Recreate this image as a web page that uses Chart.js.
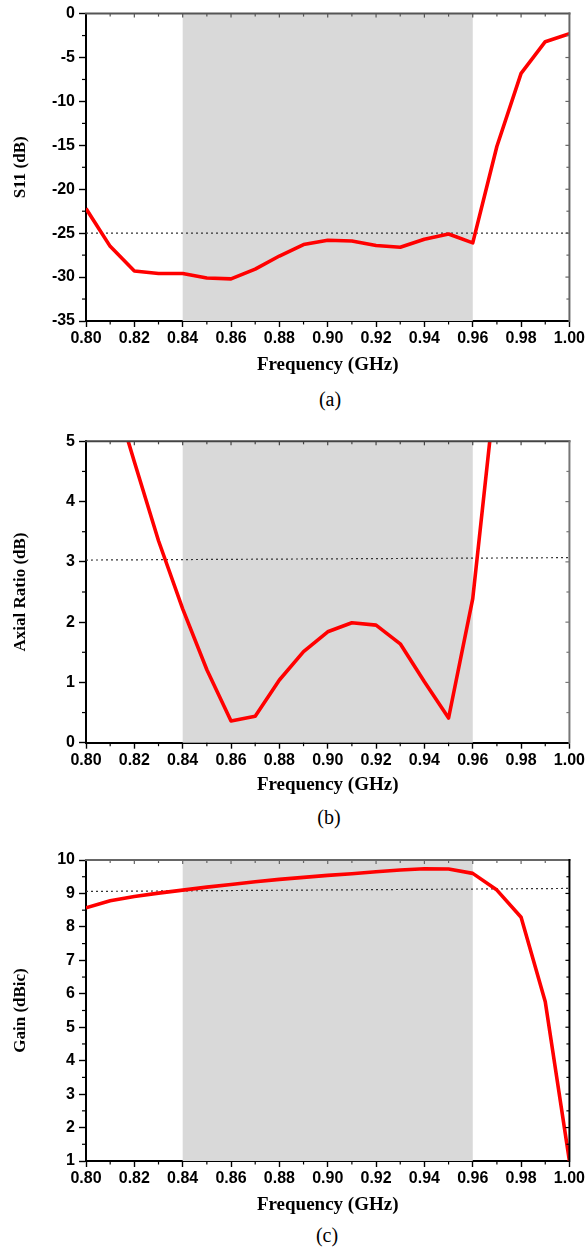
<!DOCTYPE html>
<html><head><meta charset="utf-8">
<script src="https://cdn.jsdelivr.net/npm/chart.js@4.4.1/dist/chart.umd.min.js"></script>
<style>
html,body{margin:0;padding:0;background:#fff;width:587px;height:1247px;overflow:hidden;position:relative}
canvas{position:absolute;left:0}
.cap{position:absolute;font-family:"Liberation Serif","Times New Roman",serif;font-size:20px;color:#000;width:60px;text-align:center;line-height:22px}
</style></head><body>
<canvas id="ca" width="587" height="380" style="top:0px"></canvas>
<canvas id="cb" width="587" height="380" style="top:420px"></canvas>
<canvas id="cc" width="587" height="380" style="top:840px"></canvas>
<div class="cap" style="left:300px;top:388px">(a)</div>
<div class="cap" style="left:299px;top:806px">(b)</div>
<div class="cap" style="left:297px;top:1224px">(c)</div>
<script>
// ---- data ----
const freq = [0.80,0.81,0.82,0.83,0.84,0.85,0.86,0.87,0.88,0.89,0.90,0.91,0.92,0.93,0.94,0.95,0.96,0.97,0.98,0.99,1.00];
const s11 = [-22.2,-26.5,-29.3,-29.6,-29.6,-30.1,-30.2,-29.1,-27.6,-26.3,-25.8,-25.9,-26.4,-26.6,-25.7,-25.1,-26.1,-15.1,-6.8,-3.2,-2.3];
const axialRatio = [7.4,6.0,4.66,3.35,2.22,1.21,0.36,0.44,1.04,1.51,1.84,1.99,1.95,1.64,1.01,0.41,2.39,6.1,null,null,null];
const gain = [8.57,8.78,8.91,9.01,9.10,9.19,9.27,9.35,9.42,9.48,9.54,9.59,9.65,9.70,9.74,9.73,9.60,9.10,8.29,5.76,1.0];
const refFreq = [0.80, 1.00];
const s11Ref = [-25, -25];
const arRef = [3.03, 3.07];
const gainRef = [9.06, 9.15];
const band = [0.84, 0.96];
const xTicks = [0.80,0.82,0.84,0.86,0.88,0.90,0.92,0.94,0.96,0.98,1.00];

const SANS = '"Liberation Sans", Arial, sans-serif';
const SERIF = '"Liberation Serif", "Times New Roman", serif';

const decor = {
  id: 'decor',
  beforeDatasetsDraw(chart, args, o) {
    const {ctx, chartArea: a, scales: {x}} = chart;
    const x0 = x.getPixelForValue(o.band[0]), x1 = x.getPixelForValue(o.band[1]);
    ctx.save();
    ctx.fillStyle = '#d9d9d9';
    ctx.fillRect(x0, a.top, x1 - x0, a.bottom - a.top);
    ctx.restore();
  },
  afterDraw(chart, args, o) {
    const {ctx, chartArea: a, scales: {x, y}} = chart;
    ctx.save();
    ctx.lineWidth = 2;
    ctx.strokeStyle = o.topColor;
    ctx.beginPath(); ctx.moveTo(a.left - 1, a.top); ctx.lineTo(a.right + 1, a.top); ctx.stroke();
    ctx.strokeStyle = o.rightColor;
    ctx.beginPath(); ctx.moveTo(a.right, a.top - 1); ctx.lineTo(a.right, a.bottom + 1); ctx.stroke();
    ctx.lineWidth = 1.2;
    for (let i = 0; i < freq.length; i++) {
      const px = x.getPixelForValue(freq[i]);
      const major = i % 2 === 0;
      ctx.strokeStyle = '#000';
      if (!major) { ctx.beginPath(); ctx.moveTo(px, a.bottom); ctx.lineTo(px, a.bottom + 3.5); ctx.stroke(); }
      if (i > 0 && i < freq.length - 1) {
        ctx.strokeStyle = o.topColor;
        ctx.beginPath(); ctx.moveTo(px, a.top); ctx.lineTo(px, a.top + (major ? 4 : 3)); ctx.stroke();
      }
    }
    const step = o.yStep / 2;
    for (let v = o.yMin; v <= o.yMax + 1e-9; v += step) {
      const py = y.getPixelForValue(v);
      const r = (v - o.yMin) / o.yStep;
      const major = Math.abs(r - Math.round(r)) < 1e-6;
      ctx.strokeStyle = '#000';
      if (!major) { ctx.beginPath(); ctx.moveTo(a.left, py); ctx.lineTo(a.left - 4, py); ctx.stroke(); }
      if (v > o.yMin + 1e-9 && v < o.yMax - 1e-9) {
        ctx.strokeStyle = o.rightColor;
        ctx.beginPath(); ctx.moveTo(a.right, py); ctx.lineTo(a.right - (major ? 4 : 3), py); ctx.stroke();
      }
    }
    ctx.restore();
  }
};

function makeChart(id, vals, ref, yMin, yMax, yStep, yTitle, padTop, xAxisH, topColor, rightColor) {
  const main = freq.map((f, i) => ({x: f, y: vals[i]}));
  const refPts = refFreq.map((f, i) => ({x: f, y: ref[i]}));
  return new Chart(document.getElementById(id), {
    type: 'line',
    data: {
      datasets: [
        {data: main, borderColor: '#ff0000', borderWidth: 3.6, pointRadius: 0, tension: 0, borderJoinStyle: 'round', spanGaps: false},
        {data: refPts, borderColor: '#333', borderWidth: 1.2, borderDash: [2, 3], pointRadius: 0}
      ]
    },
    options: {
      responsive: false, animation: false, devicePixelRatio: 1,
      layout: {padding: {top: padTop, right: 17, left: 0, bottom: 0}},
      plugins: {legend: {display: false}, tooltip: {enabled: false},
        decor: {band: band, yMin, yMax, yStep, topColor, rightColor}},
      scales: {
        x: {
          type: 'linear', min: 0.8, max: 1.0,
          afterBuildTicks: s => { s.ticks = xTicks.map(v => ({value: v})); },
          afterFit: s => { s.height = xAxisH; },
          ticks: {callback: v => v.toFixed(2), color: '#000', padding: 2, maxRotation: 0, autoSkip: false,
            font: {family: SANS, size: 16, weight: 'bold'}},
          grid: {display: true, drawOnChartArea: false, drawTicks: true, tickLength: 6, tickColor: '#000', tickWidth: 1.4},
          border: {display: true, color: '#000', width: 2},
          title: {display: true, text: 'Frequency (GHz)', color: '#000', padding: {top: 0, bottom: 4},
            font: {family: SERIF, size: 19, weight: 'bold'}}
        },
        y: {
          type: 'linear', min: yMin, max: yMax,
          afterFit: s => { s.width = 86; },
          ticks: {stepSize: yStep, color: '#000', padding: 4,
            font: {family: SANS, size: 16, weight: 'bold'}},
          grid: {display: true, drawOnChartArea: false, drawTicks: true, tickLength: 7, tickColor: '#000', tickWidth: 1.4},
          border: {display: true, color: '#000', width: 2},
          title: {display: true, text: yTitle, color: '#000', padding: {top: 10, bottom: 0},
            font: {family: SERIF, size: 17, weight: 'bold'}}
        }
      }
    },
    plugins: [decor]
  });
}

makeChart('ca', s11, s11Ref, -35, 0, 5, 'S11 (dB)', 10.7, 59, '#555', '#666');
makeChart('cb', axialRatio, arRef, 0, 5, 1, 'Axial Ratio (dB)', 21.3, 57.3, '#444', '#777');
makeChart('cc', gain, gainRef, 1, 10, 1, 'Gain (dBic)', 20, 59, '#666', '#000');
</script>
</body></html>
